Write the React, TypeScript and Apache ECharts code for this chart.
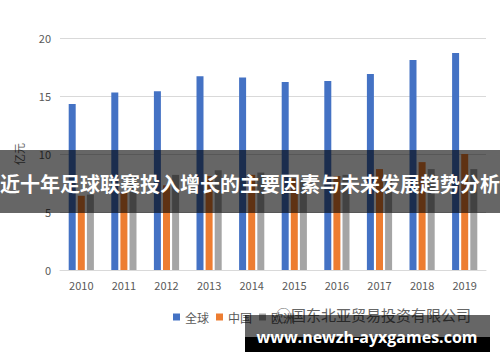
import React, { useEffect, useRef } from "react";
import * as echarts from "echarts";

const years = ["2010", "2011", "2012", "2013", "2014", "2015", "2016", "2017", "2018", "2019"];
const seriesNames = ["全球", "中国", "欧洲"];
const globalValues = [14.3, 15.3, 15.4, 16.7, 16.6, 16.2, 16.3, 16.9, 18.1, 18.7];
const chinaValues = [6.4, 6.7, 7.3, 8.1, 8.2, 7.9, 8.1, 8.7, 9.3, 10.0];
const otherValues = [6.5, 8.2, 8.2, 8.6, 8.4, 7.8, 8.2, 7.8, 8.7, 8.7];
const colors = ["#4472C4", "#ED7D31", "#A5A5A5"];
const bannerTitle = "近十年足球联赛投入增长的主要因素与未来发展趋势分析";
const watermark = "www.newzh-ayxgames.com";
const overlayText = "◯国东北亚贸易投资有限公司";

const FONT = "'Noto Sans CJK SC', 'Noto Sans', sans-serif";

export default function App() {
  const ref = useRef<HTMLDivElement>(null);
  useEffect(() => {
    if (!ref.current) return;
    const chart = echarts.init(ref.current, null, { renderer: "svg" });
    const values = [globalValues, chinaValues, otherValues];
    chart.setOption({
      animation: false,
      backgroundColor: "#ffffff",
      textStyle: { fontFamily: FONT },
      grid: { left: 60, right: 14, top: 38, bottom: 92 },
      legend: {
        left: 168,
        top: 306,
        itemWidth: 7,
        itemHeight: 7,
        itemGap: 7,
        icon: "rect",
        textStyle: { color: "#595959", fontSize: 12, fontFamily: FONT },
        data: seriesNames,
      },
      xAxis: {
        type: "category",
        data: years,
        axisLine: { show: true, lineStyle: { color: "#D9D9D9" } },
        axisTick: { show: false },
        axisLabel: { color: "#595959", fontSize: 11, margin: 9 },
      },
      yAxis: {
        type: "value",
        min: 0,
        max: 20,
        interval: 5,
        name: "亿元",
        nameLocation: "middle",
        nameRotate: 90,
        nameGap: 36,
        nameTextStyle: { color: "#595959", fontSize: 11 },
        axisLine: { show: false },
        axisTick: { show: false },
        axisLabel: { color: "#595959", fontSize: 11, margin: 9 },
        splitLine: { lineStyle: { color: "#D9D9D9" } },
      },
      series: seriesNames.map((n, i) => ({
        name: n,
        type: "bar",
        data: values[i],
        barWidth: 7,
        barGap: "30%",
        itemStyle: { color: colors[i] },
      })),
      graphic: [
        {
          type: "rect",
          z: 100,
          shape: { x: 0, y: 150, width: 500, height: 63 },
          style: { fill: "rgba(0,0,0,0.6)" },
        },
        {
          type: "text",
          z: 101,
          x: 250,
          y: 183,
          style: {
            text: bannerTitle,
            fill: "#ffffff",
            fontSize: 20,
            fontWeight: "bold",
            fontFamily: FONT,
            align: "center",
            verticalAlign: "middle",
          },
        },
        {
          type: "text",
          z: 100,
          x: 276,
          y: 314,
          style: {
            text: overlayText,
            fill: "#666666",
            fontSize: 15,
            fontFamily: FONT,
            align: "left",
            verticalAlign: "middle",
          },
        },
        {
          type: "rect",
          z: 101,
          shape: { x: 245, y: 315, width: 245, height: 22 },
          style: { fill: "rgba(0,0,0,0.6)" },
        },
        {
          type: "rect",
          z: 101,
          shape: { x: 245, y: 337, width: 245, height: 15 },
          style: { fill: "#000000" },
        },
        {
          type: "text",
          z: 102,
          x: 367,
          y: 337,
          style: {
            text: watermark,
            fill: "#ffffff",
            fontSize: 16,
            fontWeight: "bold",
            fontFamily: "'Open Sans', 'DejaVu Sans', sans-serif",
            align: "center",
            verticalAlign: "middle",
          },
        },
      ],
    });
    return () => chart.dispose();
  }, []);
  return (
    <div
      ref={ref}
      style={{ position: "fixed", left: 0, top: 0, width: 500, height: 362 }}
    />
  );
}
